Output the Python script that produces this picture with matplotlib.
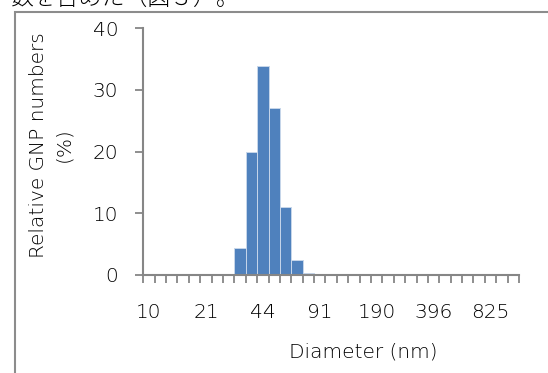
import matplotlib
matplotlib.use("Agg")
import matplotlib.pyplot as plt
from matplotlib.patches import Rectangle
from matplotlib.ticker import FixedLocator, NullFormatter

plt.rcParams['font.family'] = ['DejaVu Sans', 'Noto Sans CJK JP']
plt.rcParams['font.weight'] = 'light'

# Data
values = [0, 0, 0, 0, 0, 0, 0, 0,
          4.4, 20.0, 33.8, 27.0, 11.0, 2.4, 0.3, 0, 0,
          0.15, 0.15, 0.15,
          0, 0, 0, 0, 0, 0, 0, 0, 0, 0, 0, 0, 0]
diameter_labels = ["10", "21", "44", "91", "190", "396", "825"]
label_step = 5
y_ticks = [0, 10, 20, 30, 40]
x_title = "Diameter (nm)"
y_title = "Relative GNP numbers\n(%)"
caption = "数を含めた（図３）。"

W, H = 548, 373
fig = plt.figure(figsize=(W / 100, H / 100), dpi=100)

# Outer frame (partially visible)
fig.patches.append(Rectangle((14.5 / W, -0.2), 1.5, (H - 11.5) / H + 0.2,
                             transform=fig.transFigure, fill=False,
                             edgecolor='#8c8c8c', linewidth=1.5, clip_on=False))

# Clipped caption line at the very top
fig.text(10 / W, 1 - 10.5 / H, caption, fontsize=16.5, color='#000000',
         ha='left', va='bottom', family=['Noto Sans CJK JP', 'DejaVu Sans'])

ax = fig.add_axes([143.3 / W, 1 - 275 / H, (519 - 143.3) / W, (275 - 28) / H])
x = list(range(len(values)))
ax.bar(x, values, width=1.0, color='#4f81bd', edgecolor='#c6d6ea', linewidth=0.7)

ax.set_xlim(-0.5, len(values) - 0.5)
ax.set_ylim(0, 40)
ax.set_yticks(y_ticks)
ax.set_yticklabels([str(v) for v in y_ticks])

ax.xaxis.set_major_locator(FixedLocator([i * label_step for i in range(len(diameter_labels))]))
ax.set_xticklabels(diameter_labels)
ax.xaxis.set_minor_locator(FixedLocator([i - 0.5 for i in range(len(values) + 1)]))
ax.xaxis.set_minor_formatter(NullFormatter())

for s in ['top', 'right']:
    ax.spines[s].set_visible(False)
for s in ['left', 'bottom']:
    ax.spines[s].set_color('#868686')
    ax.spines[s].set_linewidth(1.5)

fs = 14.5
ax.tick_params(axis='y', which='major', length=6, width=1.3, color='#868686',
               pad=12, labelsize=fs, labelcolor='#000000')
ax.tick_params(axis='x', which='major', length=0, pad=20,
               labelsize=fs, labelcolor='#000000')
ax.tick_params(axis='x', which='minor', length=6, width=1.3, color='#868686')

fig.text(51 / W, 1 - 145 / H, y_title, rotation=90, fontsize=fs,
         color='#000000', ha='center', va='center', linespacing=1.4)
fig.text(363 / W, 1 - 352 / H, x_title, fontsize=fs, color='#000000',
         ha='center', va='center')

fig.savefig("out.png", dpi=100)
